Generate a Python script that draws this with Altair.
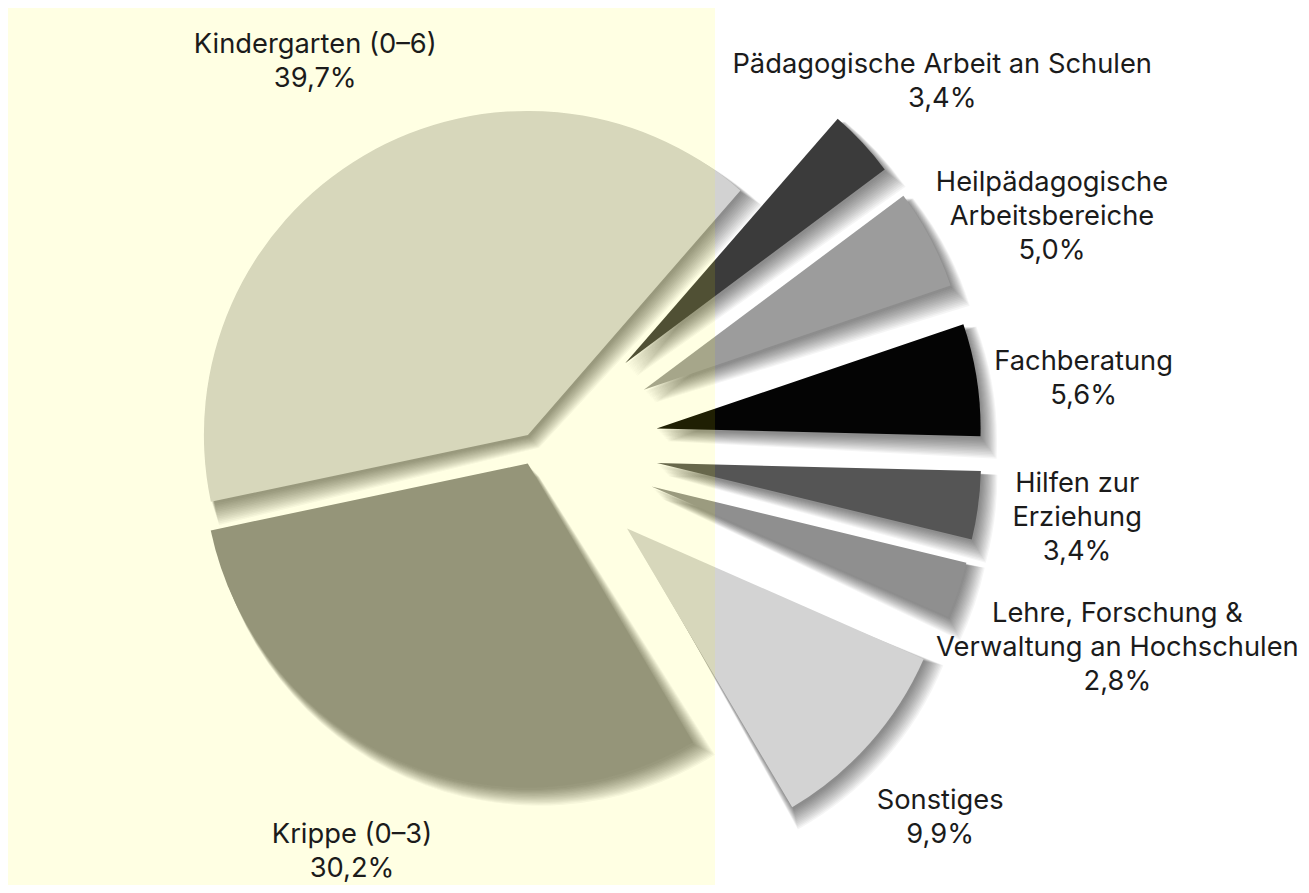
import math
import altair as alt
import pandas as pd

# ---- data (clockwise, starting at the top-right slice) ----
categories = [
    "Pädagogische Arbeit an Schulen",
    "Heilpädagogische Arbeitsbereiche",
    "Fachberatung",
    "Hilfen zur Erziehung",
    "Lehre, Forschung & Verwaltung an Hochschulen",
    "Sonstiges",
    "Krippe (0–3)",
    "Kindergarten (0–6)",
]
label_text = [
    "Pädagogische Arbeit an Schulen",
    "Heilpädagogische\nArbeitsbereiche",
    "Fachberatung",
    "Hilfen zur\nErziehung",
    "Lehre, Forschung &\nVerwaltung an Hochschulen",
    "Sonstiges",
    "Krippe (0–3)",
    "Kindergarten (0–6)",
]
shares = [3.4, 5.0, 5.6, 3.4, 2.8, 9.9, 30.2, 39.7]

# ---- style / layout ----
fills = ["#3b3b3b", "#9c9c9c", "#040404", "#555555", "#8f8f8f", "#d3d3d3", "#888888", "#d2d2d2"]
explode = [123, 123, 123, 123, 123, 123, 18, 14]
label_radius = [553, 577, 554, 544, 608, 543, 436, 451]
label_nudge_deg = [0.3, 1.4, 0.7, -2.8, -2.0, 0.2, 1.1, 1.3]

W, H = 1293, 877
CX, CY = 527, 439
R = 324
TH0 = math.radians(41)
FONT = "Inter"

df = pd.DataFrame({
    "order": list(range(len(categories))),
    "category": categories,
    "share": shares,
    "fill": fills,
    "explode": explode,
    "lrad": label_radius,
    "nudge": label_nudge_deg,
})
df["label"] = [t + "\n" + f"{v:.1f}".replace(".", ",") + "%" for t, v in zip(label_text, shares)]

theta_scale = alt.Scale(domain=[0, 100], range=[TH0, TH0 + 2 * math.pi])

base = (
    alt.Chart(df)
    .transform_window(end="sum(share)", sort=[alt.SortField("order")], frame=[None, 0])
    .transform_calculate(
        start="datum.end - datum.share",
        mid="datum.end - datum.share / 2",
    )
    .transform_calculate(
        midrad=f"{TH0} + datum.mid / 100 * 2 * PI",
        lpos="datum.mid + datum.nudge / 3.6",
    )
    .transform_calculate(
        cx=f"{CX} + datum.explode * sin(datum.midrad)",
        cy=f"{CY} - datum.explode * cos(datum.midrad)",
    )
)

layers = []
# soft drop shadow (many faint, progressively shifted copies)
n_sh = 14
for k in range(n_sh):
    w = 0.035 * k
    sh = (
        base.transform_calculate(
            s0=f"datum.start - {w}",
            s1=f"datum.end + {w}",
            sx=f"datum.cx + {1.5 + 0.75 * k}",
            sy=f"datum.cy + {2.5 + 0.8 * k}",
        )
        .mark_arc(radius=R + k * 0.4, color="#000000", opacity=0.04)
        .encode(
            theta=alt.Theta("s0:Q", scale=theta_scale, stack=None),
            theta2="s1:Q",
            x=alt.X("sx:Q", scale=None, axis=None),
            y=alt.Y("sy:Q", scale=None, axis=None),
        )
    )
    layers.append(sh)

arcs = base.mark_arc(radius=R).encode(
    theta=alt.Theta("start:Q", scale=theta_scale, stack=None),
    theta2="end:Q",
    x=alt.X("cx:Q", scale=None, axis=None),
    y=alt.Y("cy:Q", scale=None, axis=None),
    color=alt.Color("fill:N", scale=None),
)
layers.append(arcs)

overlay = (
    alt.Chart(pd.DataFrame({"o": [0]}))
    .mark_rect(color="#ffff00", opacity=0.11)
    .encode(x=alt.value(0), x2=alt.value(707), y=alt.value(0), y2=alt.value(H))
)
layers.append(overlay)

labels = base.mark_text(
    font=FONT, fontSize=27.3, lineBreak="\n", lineHeight=34,
    align="center", baseline="alphabetic", color="#1b1b1b",
).encode(
    text="label:N",
    theta=alt.Theta("lpos:Q", scale=theta_scale, stack=None),
    radius=alt.Radius("lrad:Q", scale=None),
    x=alt.value(CX),
    y=alt.value(CY),
)
layers.append(labels)

chart = (
    alt.layer(*layers)
    .properties(width=W, height=H, padding=0, autosize="none")
    .configure_view(stroke=None)
)

chart.save("out.html", embed_options={"renderer": "svg", "actions": False})
